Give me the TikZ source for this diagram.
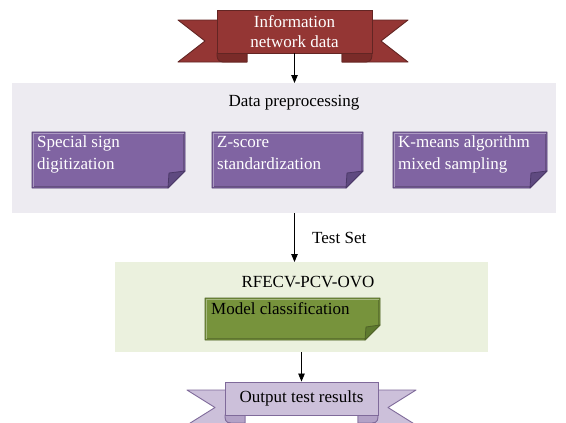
\documentclass[tikz,border=0pt]{standalone}
\usepackage{fontspec}
\setmainfont{Liberation Serif}
\usetikzlibrary{arrows.meta}
\definecolor{ribred}{HTML}{943634}
\definecolor{ribredd}{HTML}{632523}
\definecolor{ribredf}{HTML}{7A2B29}
\definecolor{prepbg}{HTML}{EDEBF1}
\definecolor{purp}{HTML}{8064A2}
\definecolor{purpd}{HTML}{4B3868}
\definecolor{purpf}{HTML}{5F4A80}
\definecolor{greenbg}{HTML}{EBF1DE}
\definecolor{olivebox}{HTML}{77933C}
\definecolor{olived}{HTML}{4F6228}
\definecolor{olivef}{HTML}{5E7A2E}
\definecolor{lav}{HTML}{CCC0DA}
\definecolor{lavd}{HTML}{7F6A9A}
\definecolor{lavf}{HTML}{B3A2C7}
\newcommand{\foldnote}[8]{%
  \filldraw[fill=#6,draw=#7,line width=0.9pt,line join=round] (#1,#2) -- (#3,#2) -- (#3,{#4-#5}) -- ({#3-#5},#4) -- (#1,#4) -- cycle;
  \draw[white,opacity=0.35,line width=1pt] ({#1+1.5},{#4-1.5}) -- ({#1+1.5},{#2+1.5}) -- ({#3-1.5},{#2+1.5});
  \draw[black,opacity=0.2,line width=1pt] ({#1+1.5},{#4-1.5}) -- ({#3-#5-0.5},{#4-1.5});
  \draw[black,opacity=0.2,line width=1pt] ({#3-1.5},{#2+1.5}) -- ({#3-1.5},{#4-#5-0.5});
  \filldraw[fill=#8,draw=#7,line width=0.8pt,line join=round] (#3,{#4-#5}) -- ({#3-#5+1},{#4-#5+2}) -- ({#3-#5},#4) -- cycle;
}
\tikzset{
  panel/.style={inner sep=0pt, anchor=north west},
  boxtext/.style={anchor=north west, inner sep=0pt, align=left, font=\fontsize{17}{22}\selectfont},
  arr/.style={-{Triangle[length=8pt,width=6.5pt]}, line width=0.8pt},
  ribmain/.style={inner sep=0pt, align=center, line width=0.9pt},
}
\begin{document}
\begin{tikzpicture}[x=1pt,y=-1pt,font=\fontsize{17}{20}\selectfont]
\useasboundingbox (0,0) rectangle (566,423);
% panels
\node[panel, fill=prepbg, minimum width=544pt, minimum height=130pt] (prep) at (12,83) {};
\node (preptitle) at (294,103) {Data preprocessing};
\node[panel, fill=greenbg, minimum width=373pt, minimum height=90pt] (green) at (115,262) {};
\node (rfetitle) at (308,282) {RFECV-PCV-OVO};
% top ribbon
\filldraw[fill=ribred, draw=ribredd, line width=0.9pt, line join=round] (178,20) -- (247,20) -- (247,62) -- (178,62) -- (205,41) -- cycle;
\filldraw[fill=ribred, draw=ribredd, line width=0.9pt, line join=round] (408,20) -- (342,20) -- (342,62) -- (408,62) -- (381,41) -- cycle;
\filldraw[fill=ribredf, draw=ribredd, line width=0.9pt] (217,53) -- (247,53) -- (247,62) -- (223,62) .. controls (217,62) and (217,57) .. (217,53) -- cycle;
\filldraw[fill=ribredf, draw=ribredd, line width=0.9pt] (372,53) -- (342,53) -- (342,62) -- (366,62) .. controls (372,62) and (372,57) .. (372,53) -- cycle;
\node[ribmain, fill=ribred, draw=ribredd, minimum width=155pt, minimum height=43pt, text=white] (info) at (294.5,31.5) {Information\\network data};
% purple notes
\foldnote{32}{132}{185}{188}{17}{purp}{purpd}{purpf}
\node[boxtext, text=white] (b1) at (37,136) {Special sign\\digitization};
\foldnote{212}{132}{363}{188}{17}{purp}{purpd}{purpf}
\node[boxtext, text=white] (b2) at (217,136) {Z-score\\standardization};
\foldnote{393}{132}{547}{188}{17}{purp}{purpd}{purpf}
\node[boxtext, text=white] (b3) at (398,136) {K-means algorithm\\mixed sampling};
% green note
\foldnote{205}{298}{380}{340}{15}{olivebox}{olived}{olivef}
\node[boxtext, text=black] (mc) at (211,302) {Model classification};
% bottom ribbon
\filldraw[fill=lav, draw=lavd, line width=0.9pt, line join=round] (187,390) -- (245,390) -- (245,425) -- (187,425) -- (215,407.5) -- cycle;
\filldraw[fill=lav, draw=lavd, line width=0.9pt, line join=round] (416,390) -- (358,390) -- (358,425) -- (416,425) -- (388,407.5) -- cycle;
\filldraw[fill=lavf, draw=lavd, line width=0.9pt] (225,415) -- (245,415) -- (245,423) -- (231,423) .. controls (225,423) and (225,419) .. (225,415) -- cycle;
\filldraw[fill=lavf, draw=lavd, line width=0.9pt] (378,415) -- (358,415) -- (358,423) -- (372,423) .. controls (378,423) and (378,419) .. (378,415) -- cycle;
\node[ribmain, fill=lav, draw=lavd, minimum width=153pt, minimum height=33pt] (out) at (301.5,398.5) {Output test results};
% connectors
\draw[arr] (info.south) -- (info.south |- prep.north);
\draw[arr] (info.south |- prep.south) -- node[midway, right=14pt] {Test Set} (info.south |- green.north);
\draw[arr] (out.north |- green.south) -- (out.north);
\end{tikzpicture}
\end{document}
